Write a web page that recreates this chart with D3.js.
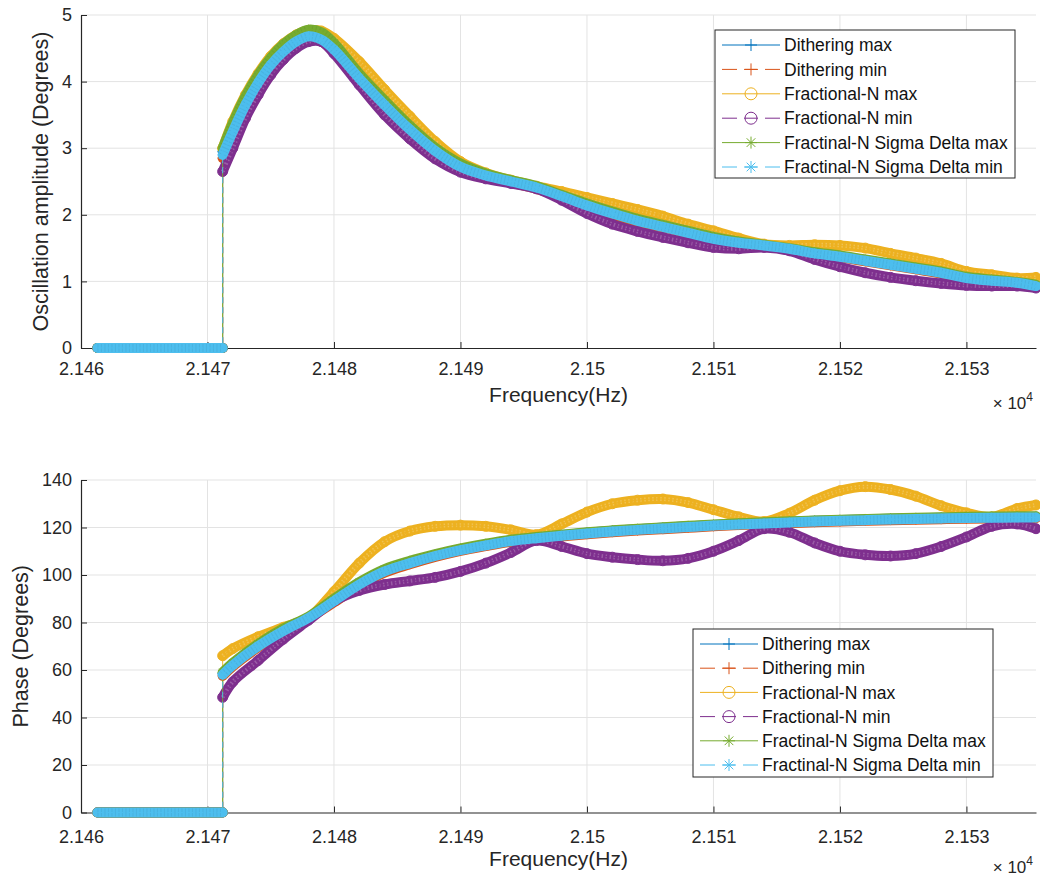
<!DOCTYPE html>
<html>
<head>
<meta charset="utf-8">
<script src="https://cdn.jsdelivr.net/npm/d3@7"></script>
<style>
  body { margin: 0; background: #fff; }
  svg { display: block; font-family: 'Liberation Sans', Arial, sans-serif; }
</style>
</head>
<body>
<div id="chart"></div>
<script>
const seriesNames = ['Dithering max', 'Dithering min', 'Fractional-N max', 'Fractional-N min',
  'Fractinal-N Sigma Delta max', 'Fractinal-N Sigma Delta min']
const colors = ['#0072BD', '#D95319', '#EDB120', '#7E2F8E', '#77AC30', '#4DBEEE']
const dashed = [false, true, false, true, false, true]
const symbols = ['plus', 'plus', 'circle', 'circle', 'star', 'star']

const xTicks = [21460, 21470, 21480, 21490, 21500, 21510, 21520, 21530]
const ampTicks = [0, 1, 2, 3, 4, 5]
const phaseTicks = [0, 20, 40, 60, 80, 100, 120, 140]

// flat part before the jump, same for every series
const plateauHz = [21461.3, 21471.2]
const plateauVal = [0, 0]

// amplitude (top)
const ampHz = [21471.2, 21472, 21473, 21474, 21475, 21476, 21477, 21478, 21479, 21480,
  21482, 21484, 21486, 21488, 21490, 21492, 21494, 21496, 21498, 21500,
  21502, 21504, 21506, 21508, 21510, 21512, 21514, 21516, 21518, 21520,
  21522, 21524, 21526, 21528, 21530, 21532, 21534, 21535.5]
const ampDitherMax = [2.95, 3.33, 3.72, 4.05, 4.31, 4.51, 4.66, 4.74, 4.69, 4.54,
  4.09, 3.69, 3.31, 2.99, 2.75, 2.61, 2.51, 2.42, 2.29, 2.16,
  2.04, 1.93, 1.84, 1.75, 1.66, 1.59, 1.55, 1.5, 1.43, 1.38,
  1.32, 1.26, 1.2, 1.14, 1.06, 1.02, 0.99, 0.94]
const ampDitherMin = [2.85, 3.2, 3.6, 3.94, 4.21, 4.42, 4.57, 4.65, 4.6, 4.45,
  4.02, 3.62, 3.25, 2.94, 2.7, 2.57, 2.48, 2.39, 2.26, 2.12,
  2.0, 1.89, 1.81, 1.72, 1.63, 1.57, 1.53, 1.48, 1.41, 1.36,
  1.3, 1.24, 1.18, 1.12, 1.04, 1.0, 0.97, 0.92]
const ampFracMax = [3.0, 3.4, 3.8, 4.12, 4.38, 4.57, 4.7, 4.77, 4.76, 4.65,
  4.3, 3.88, 3.48, 3.1, 2.8, 2.63, 2.52, 2.43, 2.35, 2.26,
  2.17, 2.08, 1.98, 1.86, 1.76, 1.65, 1.56, 1.54, 1.55, 1.54,
  1.5, 1.42, 1.35, 1.27, 1.15, 1.1, 1.05, 1.06]
const ampFracMin = [2.65, 3.0, 3.45, 3.8, 4.1, 4.33, 4.5, 4.6, 4.6, 4.42,
  3.95, 3.5, 3.14, 2.84, 2.64, 2.54, 2.47, 2.39, 2.22, 2.02,
  1.86, 1.75, 1.66, 1.58, 1.51, 1.49, 1.51, 1.46, 1.33, 1.22,
  1.13, 1.06, 1.01, 0.97, 0.94, 0.93, 0.93, 0.9]
const ampSdMax = [3.0, 3.38, 3.78, 4.1, 4.36, 4.56, 4.7, 4.78, 4.74, 4.58,
  4.12, 3.72, 3.34, 3.01, 2.77, 2.62, 2.52, 2.43, 2.3, 2.17,
  2.05, 1.94, 1.85, 1.76, 1.67, 1.6, 1.55, 1.5, 1.44, 1.39,
  1.33, 1.27, 1.21, 1.15, 1.07, 1.03, 0.99, 0.95]
const ampSdMin = [2.9, 3.25, 3.65, 3.98, 4.25, 4.45, 4.6, 4.68, 4.63, 4.48,
  4.05, 3.65, 3.28, 2.96, 2.72, 2.59, 2.5, 2.41, 2.28, 2.14,
  2.02, 1.91, 1.82, 1.73, 1.64, 1.58, 1.54, 1.49, 1.42, 1.37,
  1.31, 1.25, 1.19, 1.13, 1.05, 1.01, 0.98, 0.93]

// phase (bottom)
const phaseHz = [21471.2, 21472, 21474, 21476, 21478, 21480, 21482, 21484, 21486, 21488,
  21490, 21492, 21494, 21496, 21498, 21500, 21502, 21504, 21506, 21508,
  21510, 21512, 21514, 21516, 21518, 21520, 21522, 21524, 21526, 21528,
  21530, 21532, 21534, 21535.5]
const phaseDitherMax = [58.5, 62.5, 70.5, 77, 82.2, 89.5, 96.5, 102, 105.5, 108.4,
  110.8, 112.8, 114.6, 115.8, 116.8, 117.8, 118.6, 119.3, 119.9, 120.5,
  121.1, 121.6, 122, 122.4, 122.8, 123.1, 123.4, 123.7, 123.9, 124.1,
  124.3, 124.4, 124.5, 124.5]
const phaseDitherMin = [57.5, 61.5, 69.5, 76, 81.8, 88.5, 95.5, 101, 104.5, 107.6,
  110.2, 112.2, 114, 115.2, 116.2, 117.2, 118, 118.7, 119.3, 119.9,
  120.5, 121, 121.4, 121.8, 122.2, 122.5, 122.8, 123.1, 123.3, 123.5,
  123.7, 123.8, 123.9, 123.9]
const phaseFracMax = [66, 69, 74, 78, 82, 93, 105, 114, 118.5, 120.5,
  121, 120.5, 119, 117, 121.5, 126.5, 130, 131.5, 132, 130.5,
  127.5, 124.5, 122.5, 126, 131.5, 135.5, 137.2, 136, 133.2, 129.2,
  126.2, 124.5, 128, 129.5]
const phaseFracMin = [48.5, 55, 64, 73, 81, 89, 93.5, 96, 97.5, 99,
  101.5, 105, 109.5, 114.5, 112, 109, 107.5, 106.5, 106, 107,
  110, 114.5, 119.5, 118, 113.5, 110, 108.5, 108, 109, 112,
  116, 120.5, 121.5, 119.5]
const phaseSdMax = [59, 63, 71, 77.5, 82.5, 90, 97, 102.5, 106, 108.8,
  111.2, 113.2, 114.9, 116, 117, 118, 118.8, 119.5, 120.1, 120.7,
  121.3, 121.8, 122.2, 122.6, 123, 123.3, 123.6, 123.9, 124.1, 124.3,
  124.5, 124.6, 124.7, 124.7]
const phaseSdMin = [58, 62, 70, 76.5, 82, 89, 96, 101.5, 105, 108,
  110.5, 112.5, 114.3, 115.5, 116.5, 117.5, 118.3, 119, 119.6, 120.2,
  120.8, 121.3, 121.7, 122.1, 122.5, 122.8, 123.1, 123.4, 123.6, 123.8,
  124, 124.1, 124.2, 124.2]

const textColor = '#262626'
const gridColor = '#e3e3e3'

const svg = d3.select('#chart')
  .append('svg')
  .attr('width', 1040)
  .attr('height', 882)

const x = d3.scaleLinear()
  .domain([21460, 21535.5])
  .range([81, 1036])

const panels = [
  {
    top: 15, bottom: 348, domain: [0, 5], ticks: ampTicks,
    label: 'Oscillation amplitude (Degrees)', labelX: 48,
    hz: ampHz,
    values: [ampDitherMax, ampDitherMin, ampFracMax, ampFracMin, ampSdMax, ampSdMin],
    legend: { x: 715, y: 30, step: 24.4 },
    tickY: 27, xLabelY: 402, powerY: 409
  },
  {
    top: 480, bottom: 812.5, domain: [0, 140], ticks: phaseTicks,
    label: 'Phase (Degrees)', labelX: 28,
    hz: phaseHz,
    values: [phaseDitherMax, phaseDitherMin, phaseFracMax, phaseFracMin, phaseSdMax, phaseSdMin],
    legend: { x: 693, y: 629, step: 24.2 },
    tickY: 30, xLabelY: 866, powerY: 873
  }
]

function markerPath(kind, s) {
  const h = s / 2
  if (kind === 'plus') return `M${-h},0H${h}M0,${-h}V${h}`
  if (kind === 'star') {
    const k = h * 0.72
    return `M${-h},0H${h}M0,${-h}V${h}M${-k},${-k}L${k},${k}M${-k},${k}L${k},${-k}`
  }
  return `M${h},0A${h},${h},0,1,1,${-h},0A${h},${h},0,1,1,${h},0`
}

panels.forEach(p => {
  const y = d3.scaleLinear()
    .domain(p.domain)
    .range([p.bottom, p.top])

  const g = svg.append('g')

  // grid
  g.append('g')
    .selectAll('line')
    .data(xTicks.slice(1))
    .join('line')
    .attr('x1', d => x(d)).attr('x2', d => x(d))
    .attr('y1', p.top).attr('y2', p.bottom)
    .attr('stroke', gridColor)
  g.append('g')
    .selectAll('line')
    .data(p.ticks.slice(1))
    .join('line')
    .attr('x1', x.range()[0]).attr('x2', x.range()[1])
    .attr('y1', d => y(d)).attr('y2', d => y(d))
    .attr('stroke', gridColor)

  // axes
  g.append('g')
    .attr('transform', `translate(0,${p.bottom})`)
    .call(d3.axisBottom(x)
      .tickValues(xTicks)
      .tickSize(-6)
      .tickSizeOuter(0)
      .tickFormat(d => String(+(d / 1e4).toFixed(4))))
    .call(a => a.select('.domain').attr('stroke', textColor).attr('stroke-width', 1.2))
    .call(a => a.selectAll('.tick line').attr('stroke', textColor))
    .call(a => a.selectAll('.tick text')
      .attr('y', p.tickY).attr('dy', null)
      .attr('fill', textColor).attr('font-size', 18)
      .attr('font-family', null))

  g.append('g')
    .attr('transform', `translate(${x.range()[0]},0)`)
    .call(d3.axisLeft(y)
      .tickValues(p.ticks)
      .tickSize(-6)
      .tickSizeOuter(0)
      .tickPadding(9)
      .tickFormat(d3.format('d')))
    .call(a => a.select('.domain').attr('stroke', textColor).attr('stroke-width', 1.2))
    .call(a => a.selectAll('.tick line').attr('stroke', textColor))
    .call(a => a.selectAll('.tick text')
      .attr('fill', textColor).attr('font-size', 18)
      .attr('font-family', null))

  g.append('text')
    .attr('transform', `translate(${p.labelX},${(p.top + p.bottom) / 2}) rotate(-90)`)
    .attr('text-anchor', 'middle')
    .attr('font-size', 21.5)
    .attr('fill', textColor)
    .text(p.label)

  g.append('text')
    .attr('x', (x.range()[0] + x.range()[1]) / 2)
    .attr('y', p.xLabelY)
    .attr('text-anchor', 'middle')
    .attr('font-size', 21)
    .attr('fill', textColor)
    .text('Frequency(Hz)')

  const pow = g.append('text')
    .attr('x', 1033)
    .attr('y', p.powerY)
    .attr('text-anchor', 'end')
    .attr('font-size', 17)
    .attr('fill', textColor)
  pow.append('tspan').text('× 10')
  pow.append('tspan').attr('dy', -8).attr('font-size', 12).text('4')

  // series
  const linear = d3.line().x(d => x(d[0])).y(d => y(d[1]))
  const smooth = d3.line().curve(d3.curveCatmullRom.alpha(0.5)).x(d => x(d[0])).y(d => y(d[1]))
  const plateau = d3.zip(plateauHz, plateauVal)

  p.values.forEach((vals, i) => {
    const pts = d3.zip(p.hz, vals)
    const s = g.append('g')
    const c = colors[i]

    // dense markers read as a thick band
    ;[plateau, pts].forEach(part => {
      const gen = part === plateau ? linear : smooth
      s.append('path')
        .attr('d', gen(part))
        .attr('fill', 'none')
        .attr('stroke', c)
        .attr('stroke-width', 10)
        .attr('stroke-linecap', 'round')
        .attr('stroke-linejoin', 'round')
      s.append('path')
        .attr('d', gen(part))
        .attr('fill', 'none')
        .attr('stroke', symbols[i] === 'circle' ? '#fff' : d3.color(c).darker(0.6))
        .attr('stroke-opacity', symbols[i] === 'circle' ? 0.22 : 0.3)
        .attr('stroke-width', symbols[i] === 'circle' ? 4 : 8)
        .attr('stroke-dasharray', symbols[i] === 'circle' ? '1.5 2.5' : '1 2.5')
    })

    // the actual thin line, including the vertical jump
    s.append('path')
      .attr('d', linear(plateau.concat([pts[0]])) + smooth(pts))
      .attr('fill', 'none')
      .attr('stroke', c)
      .attr('stroke-width', 0.9)
      .attr('stroke-dasharray', dashed[i] ? '6 4' : null)

    s.selectAll('.mk')
      .data(pts)
      .join('path')
      .attr('class', 'mk')
      .attr('transform', d => `translate(${x(d[0])},${y(d[1])})`)
      .attr('d', markerPath(symbols[i], 10))
      .attr('fill', 'none')
      .attr('stroke', c)
      .attr('stroke-width', 1)
  })

  // legend
  const L = p.legend
  const lg = g.append('g').attr('transform', `translate(${L.x},${L.y})`)
  lg.append('rect')
    .attr('width', 300)
    .attr('height', 148)
    .attr('fill', '#fff')
    .attr('stroke', textColor)
    .attr('stroke-width', 1)

  const rows = lg.selectAll('.row')
    .data(seriesNames)
    .join('g')
    .attr('class', 'row')
    .attr('transform', (d, i) => `translate(0,${15 + i * L.step})`)

  rows.append('line')
    .attr('x1', 7).attr('x2', 65)
    .attr('stroke', (d, i) => colors[i])
    .attr('stroke-width', 1)
    .attr('stroke-dasharray', (d, i) => dashed[i] ? '15 7 14 7 15' : null)

  rows.append('path')
    .attr('transform', 'translate(36,0)')
    .attr('d', (d, i) => markerPath(symbols[i], 12))
    .attr('fill', 'none')
    .attr('stroke', (d, i) => colors[i])
    .attr('stroke-width', 1)

  rows.append('text')
    .attr('x', 69)
    .attr('dy', '0.35em')
    .attr('font-size', 17.5)
    .attr('fill', '#111')
    .text(d => d)
})
</script>
</body>
</html>
